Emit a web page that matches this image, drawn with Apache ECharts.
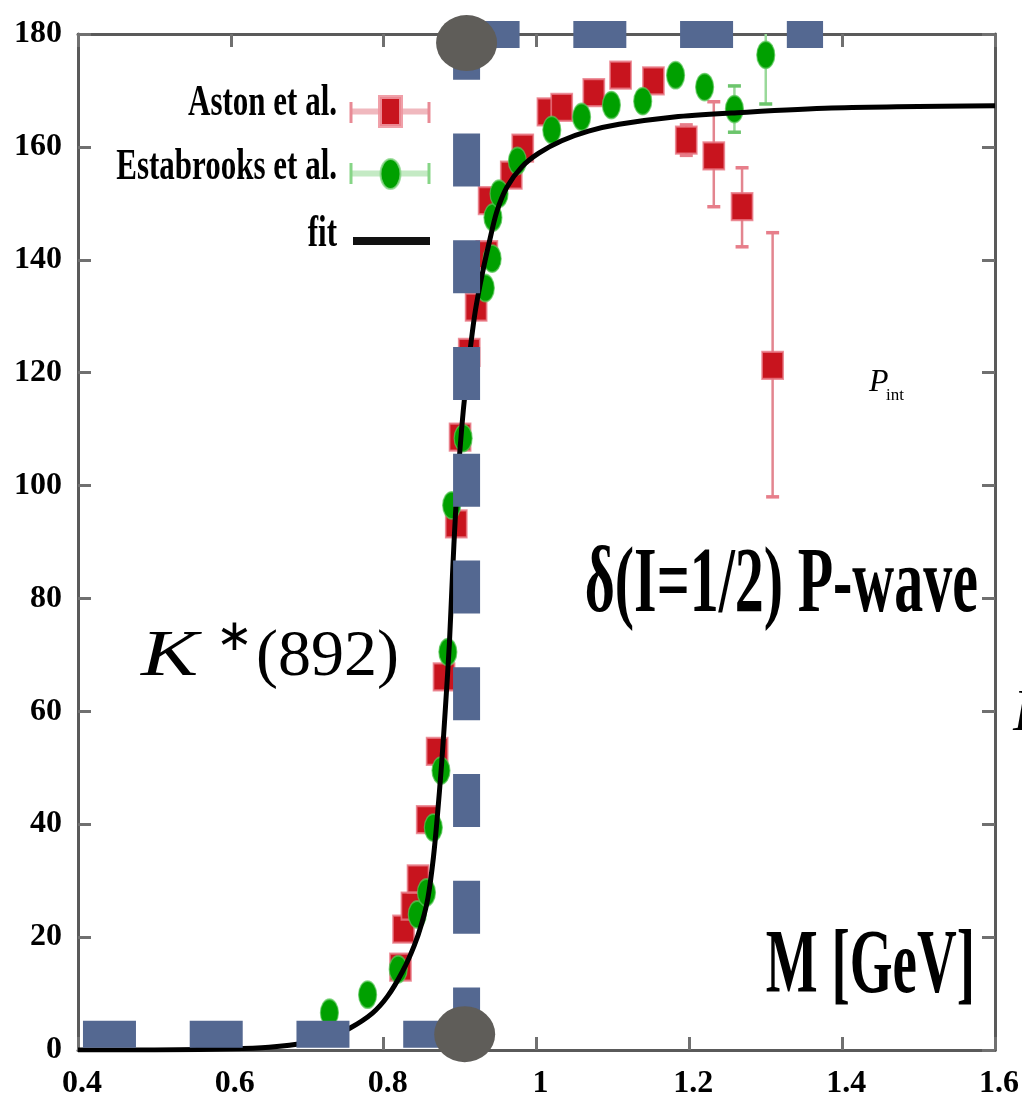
<!DOCTYPE html>
<html><head><meta charset="utf-8">
<script src="https://cdn.jsdelivr.net/npm/echarts@6/dist/echarts.min.js"></script>
<style>html,body{margin:0;padding:0;background:#fff}#c{width:1022px;height:1114px}</style>
</head><body><div id="c"></div>
<script>
// ---- tick labels ----
const X_TICKS = [0.4, 0.6, 0.8, 1.0, 1.2, 1.4, 1.6];
const X_TICK_LABELS = ['0.4', '0.6', '0.8', '1', '1.2', '1.4', '1.6'];
const Y_TICKS = [0, 20, 40, 60, 80, 100, 120, 140, 160, 180];

// ---- Aston et al. (red squares) ----
const ASTON_X = [0.822, 0.826, 0.837, 0.845, 0.857, 0.870, 0.879, 0.895, 0.900, 0.912, 0.921, 0.935, 0.938, 0.967, 0.982, 1.015, 1.033, 1.075, 1.110, 1.153, 1.196, 1.232, 1.269, 1.309];
const ASTON_Y = [14.7, 21.4, 25.5, 30.3, 40.8, 52.9, 66.1, 93.2, 108.6, 123.6, 131.6, 140.9, 150.5, 155.0, 159.8, 166.2, 167.0, 169.6, 172.7, 171.7, 161.2, 158.4, 149.4, 121.3];
const ASTON_LO = [14.7, 21.4, 25.5, 30.3, 40.8, 52.9, 66.1, 93.2, 108.6, 123.6, 131.6, 140.9, 150.5, 155.0, 159.8, 166.2, 167.0, 169.6, 172.7, 171.7, 158.5, 149.4, 142.3, 98.0];
const ASTON_HI = [14.7, 21.4, 25.5, 30.3, 40.8, 52.9, 66.1, 93.2, 108.6, 123.6, 131.6, 140.9, 150.5, 155.0, 159.8, 166.2, 167.0, 169.6, 172.7, 171.7, 163.9, 168.0, 156.3, 144.8];

// ---- Estabrooks et al. (green ellipses) ----
const EST_X = [0.729, 0.779, 0.819, 0.844, 0.856, 0.865, 0.875, 0.884, 0.889, 0.904, 0.933, 0.942, 0.943, 0.951, 0.975, 1.020, 1.059, 1.098, 1.139, 1.182, 1.220, 1.259, 1.300];
const EST_Y = [6.6, 9.8, 14.3, 24.0, 27.9, 39.4, 49.5, 70.5, 96.5, 108.4, 135.0, 140.2, 147.5, 151.7, 157.5, 163.0, 165.3, 167.4, 168.1, 172.7, 170.6, 166.7, 176.3];
const EST_LO = [6.6, 9.8, 14.3, 24.0, 27.9, 39.4, 49.5, 70.5, 96.5, 108.4, 135.0, 140.2, 147.5, 151.7, 157.5, 163.0, 165.3, 167.4, 168.1, 172.7, 170.6, 162.6, 167.6];
const EST_HI = [6.6, 9.8, 14.3, 24.0, 27.9, 39.4, 49.5, 70.5, 96.5, 108.4, 135.0, 140.2, 147.5, 151.7, 157.5, 163.0, 165.3, 167.4, 168.1, 172.7, 170.6, 170.8, 185.0];

// ---- fit curve ----
const FIT_X = [0.40, 0.50, 0.60, 0.65, 0.70, 0.73, 0.755, 0.785, 0.805, 0.825, 0.840, 0.850, 0.858, 0.865, 0.870, 0.876, 0.881, 0.886, 0.890, 0.894, 0.898, 0.902, 0.907, 0.914, 0.920, 0.929, 0.938, 0.948, 0.961, 0.981, 1.003, 1.033, 1.068, 1.108, 1.180, 1.255, 1.386, 1.600];
const FIT_Y = [0.0, 0.0, 0.2, 0.5, 1.3, 2.3, 3.8, 6.5, 9.5, 14.0, 18.5, 22.5, 27.0, 34.0, 41.0, 51.0, 61.0, 72.0, 84.0, 95.0, 103.0, 110.0, 117.0, 125.0, 131.0, 137.5, 143.0, 148.5, 152.8, 156.5, 158.9, 161.1, 162.8, 164.0, 165.3, 166.0, 166.9, 167.3];

// ---- K*(892) marker overlay ----
const KSTAR_X = 0.9085;
const BAND_LOW_Y = 2.8;
const BAND_TOP_Y = 179.9;
const BOTTOM_LINE_X = [0.4065, KSTAR_X];
const TOP_LINE_X = [KSTAR_X, 1.375];
const VERT_LINE_Y = [181.3, BAND_LOW_Y];
const CIRCLES = [[KSTAR_X, 178.4], [0.906, 2.8]];

const SERIF = "'Liberation Serif', 'Times New Roman', serif";
const BLUE = '#546891';

function pair(xs, ys) { return xs.map((x, i) => [x, ys[i]]); }
function errData(xs, lo, hi) {
  const out = [];
  xs.forEach((x, i) => { if (lo[i] !== hi[i]) out.push([x, lo[i], hi[i]]); });
  return out;
}
function errRender(color, capColor) {
  return function (params, api) {
    const x = api.value(0), lo = api.value(1), hi = api.value(2);
    const a = api.coord([x, lo]), b = api.coord([x, hi]);
    const w = 6.5;
    return {
      type: 'group',
      children: [
        { type: 'line', shape: { x1: a[0], y1: a[1], x2: b[0], y2: b[1] }, style: { stroke: color, lineWidth: 2.5 } },
        { type: 'line', shape: { x1: a[0] - w, y1: a[1], x2: a[0] + w, y2: a[1] }, style: { stroke: capColor, lineWidth: 3.5 } },
        { type: 'line', shape: { x1: b[0] - w, y1: b[1], x2: b[0] + w, y2: b[1] }, style: { stroke: capColor, lineWidth: 3.5 } }
      ]
    };
  };
}

const axisLineStyle = { color: '#5a5a5a', width: 3 };
const tickStyle = { color: '#707070', width: 3 };
const labelFont = { fontFamily: SERIF, fontWeight: 'bold', fontSize: 32, color: '#000' };

function xLabel(v) {
  let best = 0;
  X_TICKS.forEach((t, i) => { if (Math.abs(t - v) < Math.abs(X_TICKS[best] - v)) best = i; });
  return X_TICK_LABELS[best];
}
function yLabel(v) {
  let best = 0;
  Y_TICKS.forEach((t, i) => { if (Math.abs(t - v) < Math.abs(Y_TICKS[best] - v)) best = i; });
  return String(Y_TICKS[best]);
}

function txt(text, x, y, size, opts) {
  opts = opts || {};
  return {
    type: 'text', x: x, y: y, z: 100,
    scaleX: opts.scaleX || 1,
    scaleY: opts.scaleY || 1,
    style: {
      text: text,
      font: (opts.style || '') + ' ' + (opts.weight || 'normal') + ' ' + size + 'px ' + SERIF,
      fill: '#000',
      align: opts.align || 'left', textAlign: opts.align || 'left',
      verticalAlign: 'middle', textVerticalAlign: 'middle'
    }
  };
}

const graphics = [
  // legend
  txt('Aston et al.', 337, 103, 31, { weight: 'bold', align: 'right', scaleY: 1.45 }),
  { type: 'line', z: 100, shape: { x1: 350, y1: 111.5, x2: 430, y2: 111.5 }, style: { stroke: '#f0b8be', lineWidth: 6 } },
  { type: 'line', z: 100, shape: { x1: 351, y1: 102, x2: 351, y2: 123 }, style: { stroke: '#e88a95', lineWidth: 3 } },
  { type: 'line', z: 100, shape: { x1: 429, y1: 102, x2: 429, y2: 123 }, style: { stroke: '#e88a95', lineWidth: 3 } },
  { type: 'rect', z: 101, shape: { x: 380, y: 97, width: 21, height: 29 }, style: { fill: '#c8141e', stroke: 'rgba(238,150,160,0.9)', lineWidth: 4 } },
  txt('Estabrooks et al.', 337, 167.5, 31, { weight: 'bold', align: 'right', scaleY: 1.45 }),
  { type: 'line', z: 100, shape: { x1: 350, y1: 173.5, x2: 430, y2: 173.5 }, style: { stroke: '#c4eac4', lineWidth: 6 } },
  { type: 'line', z: 100, shape: { x1: 351, y1: 163, x2: 351, y2: 184 }, style: { stroke: '#86d586', lineWidth: 3 } },
  { type: 'line', z: 100, shape: { x1: 429, y1: 163, x2: 429, y2: 184 }, style: { stroke: '#86d586', lineWidth: 3 } },
  { type: 'ellipse', z: 101, shape: { cx: 390.5, cy: 174, rx: 10, ry: 15 }, style: { fill: '#00a000', stroke: 'rgba(140,215,140,0.8)', lineWidth: 2 } },
  txt('fit', 337, 234, 31, { weight: 'bold', align: 'right', scaleY: 1.45 }),
  { type: 'line', z: 100, shape: { x1: 353, y1: 241, x2: 430, y2: 241 }, style: { stroke: '#111', lineWidth: 8 } },
  // annotations
  txt('δ(I=1/2) P-wave', 978, 587, 58, { weight: 'bold', align: 'right', scaleY: 1.6 }),
  txt('M [GeV]', 975, 969, 55, { weight: 'bold', align: 'right', scaleY: 1.65 }),
  txt('K', 141, 658, 66, { style: 'italic', scaleX: 1.3 }),
  txt('∗', 216, 638, 44),
  txt('(892)', 256, 658, 66),
  txt('P', 869, 383, 32, { style: 'italic' }),
  txt('int', 886, 396, 17),
  txt('P', 1013, 714, 60, { style: 'italic' })
];

const chart = echarts.init(document.getElementById('c'), null, { renderer: 'canvas' });
chart.setOption({
  animation: false,
  backgroundColor: '#fff',
  grid: { left: 78, right: 25, top: 34, bottom: 64, containLabel: false },
  xAxis: [
    {
      type: 'value', min: 0.4, max: 1.6, interval: 0.2, position: 'bottom',
      axisLine: { show: true, onZero: false, lineStyle: axisLineStyle },
      axisTick: { show: true, inside: true, length: 13, lineStyle: tickStyle },
      axisLabel: Object.assign({ margin: 18, formatter: xLabel, padding: [0, 0, 0, 8] }, labelFont),
      splitLine: { show: false }
    },
    {
      type: 'value', min: 0.4, max: 1.6, interval: 0.2, position: 'top',
      axisLine: { show: true, onZero: false, lineStyle: axisLineStyle },
      axisTick: { show: true, inside: true, length: 13, lineStyle: tickStyle },
      axisLabel: { show: false }, splitLine: { show: false }
    }
  ],
  yAxis: [
    {
      type: 'value', min: 0, max: 180, interval: 20, position: 'left',
      axisLine: { show: true, onZero: false, lineStyle: axisLineStyle },
      axisTick: { show: true, inside: true, length: 13, lineStyle: tickStyle },
      axisLabel: Object.assign({ margin: 16, formatter: yLabel, padding: [0, 0, 14, 0] }, labelFont),
      splitLine: { show: false }
    },
    {
      type: 'value', min: 0, max: 180, interval: 20, position: 'right',
      axisLine: { show: true, onZero: false, lineStyle: axisLineStyle },
      axisTick: { show: true, inside: true, length: 13, lineStyle: tickStyle },
      axisLabel: { show: false }, splitLine: { show: false }
    }
  ],
  series: [
    { name: 'Aston err', type: 'custom', z: 2, clip: true, renderItem: errRender('#e3858f', '#e77e8a'), data: errData(ASTON_X, ASTON_LO, ASTON_HI) },
    { name: 'Estabrooks err', type: 'custom', z: 2, clip: true, renderItem: errRender('#9ad99a', '#6cc56c'), data: errData(EST_X, EST_LO, EST_HI) },
    {
      name: 'Aston et al.', type: 'scatter', z: 3, symbol: 'rect', symbolSize: [21, 27],
      itemStyle: { color: '#c8141e', borderColor: 'rgba(232,120,132,0.8)', borderWidth: 2, opacity: 1 },
      data: pair(ASTON_X, ASTON_Y)
    },
    {
      name: 'Estabrooks et al.', type: 'scatter', z: 3, symbol: 'circle', symbolSize: [18, 27],
      itemStyle: { color: '#00a000', borderColor: 'rgba(90,200,90,0.7)', borderWidth: 1.5, opacity: 1 },
      data: pair(EST_X, EST_Y)
    },
    {
      name: 'fit', type: 'line', z: 4, showSymbol: false, symbol: 'none', smooth: 0.3,
      lineStyle: { color: '#000', width: 5, join: 'round' }, data: pair(FIT_X, FIT_Y)
    },
    {
      name: 'band bottom', type: 'line', z: 5, symbol: 'none', clip: false,
      lineStyle: { color: BLUE, width: 27, type: [53, 53.75], cap: 'butt' },
      data: BOTTOM_LINE_X.map(x => [x, BAND_LOW_Y])
    },
    {
      name: 'band top', type: 'line', z: 5, symbol: 'none', clip: false,
      lineStyle: { color: BLUE, width: 27, type: [53, 53.75], cap: 'butt' },
      data: TOP_LINE_X.map(x => [x, BAND_TOP_Y])
    },
    {
      name: 'band vertical', type: 'line', z: 5, symbol: 'none', clip: false,
      lineStyle: { color: BLUE, width: 27, type: [53, 53.75], cap: 'butt' },
      data: VERT_LINE_Y.map(y => [KSTAR_X, y])
    },
    {
      name: 'K* ends', type: 'scatter', z: 6, clip: false, symbol: 'circle', symbolSize: [61, 56],
      itemStyle: { color: '#5f5d59', opacity: 1 }, data: CIRCLES
    }
  ],
  graphic: graphics
});
</script></body></html>
